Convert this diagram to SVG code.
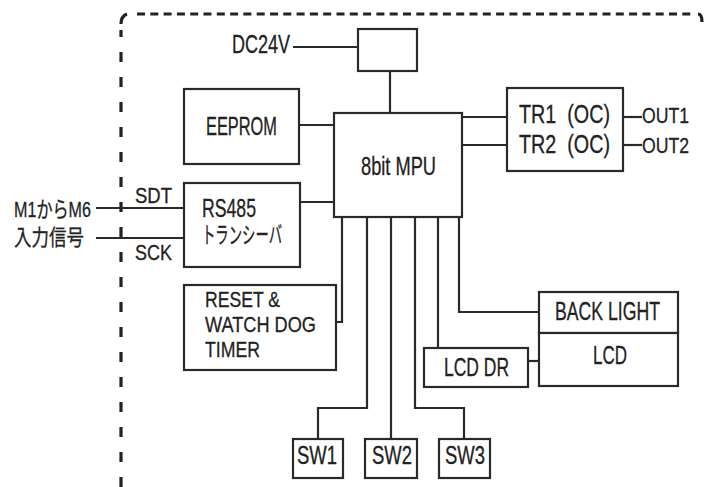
<svg xmlns="http://www.w3.org/2000/svg" width="704" height="487" viewBox="0 0 704 487">
<style>
.box{fill:#fff;stroke:#2a2a2a;stroke-width:2.2}
.ln{fill:none;stroke:#2a2a2a;stroke-width:2.2}
.t{font-family:"Liberation Sans","Noto Sans CJK JP",sans-serif;font-size:25px;fill:#222;stroke:#222;stroke-width:0.3}
.s{font-size:22px}
.j{font-size:23px}
.r{font-size:22px}
.bd{fill:none;stroke:#222;stroke-width:3.2}
</style>
<rect width="704" height="487" fill="#fff"/>
<g id="border">
<path class="bd" d="M121,487 L121,30" stroke-dasharray="10 15"/>
<path class="bd" d="M121,24 Q121,16 127,14"/>
<path class="bd" d="M137,14 L694,14" stroke-dasharray="8 5.3"/>
<path class="bd" d="M698,14 Q702,14 702,22"/>
</g>
<g id="connectors">
<path class="ln" d="M293,47 H358"/>
<path class="ln" d="M390,71 V113"/>
<path class="ln" d="M299,125 H334"/>
<path class="ln" d="M462,117 H507"/>
<path class="ln" d="M462,145 H507"/>
<path class="ln" d="M623,117 H642"/>
<path class="ln" d="M623,145 H642"/>
<path class="ln" d="M300,202 H334"/>
<path class="ln" d="M96,208 H184"/>
<path class="ln" d="M96,238 H184"/>
<path class="ln" d="M342,217 V322 H336"/>
<path class="ln" d="M367,217 V408 H318 V439"/>
<path class="ln" d="M391,217 V439"/>
<path class="ln" d="M415,217 V408 H464 V439"/>
<path class="ln" d="M438,217 V348"/>
<path class="ln" d="M459,217 V312 H539"/>
<path class="ln" d="M528,361 H539"/>
</g>
<g id="dc24v">
<text class="t" x="232" y="53" textLength="58" lengthAdjust="spacingAndGlyphs">DC24V</text>
</g>
<g id="power">
<rect class="box" x="358" y="29" width="59" height="42"/>
</g>
<g id="eeprom">
<rect class="box" x="184" y="89" width="115" height="75"/>
<text class="t" x="206" y="135" textLength="71" lengthAdjust="spacingAndGlyphs">EEPROM</text>
</g>
<g id="mpu">
<rect class="box" x="334" y="113" width="128" height="104"/>
<text class="t" x="361" y="175" textLength="75" lengthAdjust="spacingAndGlyphs">8bit MPU</text>
</g>
<g id="tr">
<rect class="box" x="507" y="88" width="116" height="83"/>
<text class="t" x="519" y="123" textLength="91" lengthAdjust="spacingAndGlyphs" xml:space="preserve">TR1  (OC)</text>
<text class="t" x="519" y="153" textLength="91" lengthAdjust="spacingAndGlyphs" xml:space="preserve">TR2  (OC)</text>
</g>
<g id="out1">
<text class="t r" x="642" y="123" textLength="47" lengthAdjust="spacingAndGlyphs">OUT1</text>
</g>
<g id="out2">
<text class="t r" x="642" y="153" textLength="47" lengthAdjust="spacingAndGlyphs">OUT2</text>
</g>
<g id="input">
<text class="t s" x="14" y="217" textLength="77" lengthAdjust="spacingAndGlyphs">M1からM6</text>
<text class="t s" x="14" y="245" textLength="70" lengthAdjust="spacingAndGlyphs">入力信号</text>
</g>
<g id="sdt">
<text class="t s" x="135" y="203" textLength="37" lengthAdjust="spacingAndGlyphs">SDT</text>
</g>
<g id="sck">
<text class="t s" x="135" y="260" textLength="37" lengthAdjust="spacingAndGlyphs">SCK</text>
</g>
<g id="rs485">
<rect class="box" x="184" y="183" width="116" height="84"/>
<text class="t" x="202" y="217" textLength="54" lengthAdjust="spacingAndGlyphs">RS485</text>
<text class="t j" x="202" y="243" textLength="80" lengthAdjust="spacingAndGlyphs">トランシーバ</text>
</g>
<g id="reset">
<rect class="box" x="184" y="285" width="152" height="85"/>
<text class="t r" x="205" y="307" textLength="75" lengthAdjust="spacingAndGlyphs">RESET &amp;</text>
<text class="t r" x="205" y="332" textLength="111" lengthAdjust="spacingAndGlyphs">WATCH DOG</text>
<text class="t r" x="205" y="357" textLength="55" lengthAdjust="spacingAndGlyphs">TIMER</text>
</g>
<g id="backlight">
<rect class="box" x="539" y="292" width="139" height="41"/>
<text class="t" x="555" y="320" textLength="105" lengthAdjust="spacingAndGlyphs">BACK LIGHT</text>
</g>
<g id="lcd">
<rect class="box" x="539" y="333" width="139" height="53"/>
<text class="t" x="593" y="364" textLength="34" lengthAdjust="spacingAndGlyphs">LCD</text>
</g>
<g id="lcddr">
<rect class="box" x="424" y="348" width="104" height="39"/>
<text class="t" x="444" y="376" textLength="65" lengthAdjust="spacingAndGlyphs">LCD DR</text>
</g>
<g id="sw1">
<rect class="box" x="293" y="439" width="50" height="39"/>
<text class="t" x="297" y="464" textLength="40" lengthAdjust="spacingAndGlyphs">SW1</text>
</g>
<g id="sw2">
<rect class="box" x="365" y="439" width="52" height="39"/>
<text class="t" x="372" y="464" textLength="40" lengthAdjust="spacingAndGlyphs">SW2</text>
</g>
<g id="sw3">
<rect class="box" x="439" y="439" width="51" height="39"/>
<text class="t" x="445" y="464" textLength="40" lengthAdjust="spacingAndGlyphs">SW3</text>
</g>
</svg>
